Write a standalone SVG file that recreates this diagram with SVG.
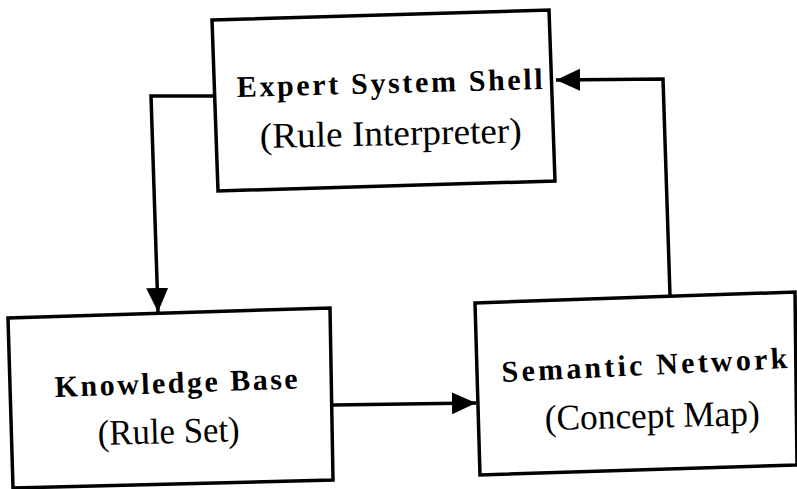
<svg xmlns="http://www.w3.org/2000/svg" width="797" height="489" viewBox="0 0 797 489">
<style>
.box{fill:#fff;stroke:#000;stroke-width:3.5;stroke-linejoin:miter}
.t1{font-family:"Liberation Serif","DejaVu Serif",serif;font-weight:bold;font-size:30px;fill:#000}
.t2{font-family:"Liberation Serif","DejaVu Serif",serif;font-size:36px;fill:#000}
.edge{fill:none;stroke:#000;stroke-width:3.5}
</style>
<defs>
<marker id="arr" markerUnits="userSpaceOnUse" markerWidth="26" markerHeight="24" refX="24" refY="11" orient="auto">
<path d="M0,0 L24,11 L0,22 Z" fill="#000"/>
</marker>
</defs>
<rect width="797" height="489" fill="#fff"/>
<g id="connectors">
<path class="edge" d="M213,96 L151,96 L158,312" marker-end="url(#arr)"/>
<path class="edge" d="M333,405 L476,403" marker-end="url(#arr)"/>
<path class="edge" d="M670,295 L663,79 L556,80" marker-end="url(#arr)"/>
</g>
<g id="expert-system-shell">
<polygon class="box" points="212,20 549,10 555,181 218,191"/>
<text class="t1" x="237" y="97" textLength="306" lengthAdjust="spacing" transform="rotate(-1.5 237 97)">Expert System Shell</text>
<text class="t2" x="260" y="148" textLength="262" lengthAdjust="spacingAndGlyphs" transform="rotate(-1.2 260 148)">(Rule  Interpreter)</text>
</g>
<g id="knowledge-base">
<polygon class="box" points="8,318 330,308 333,480 13,488"/>
<text class="t1" x="55" y="397" textLength="243" lengthAdjust="spacing" transform="rotate(-2 55 397)">Knowledge  Base</text>
<text class="t2" x="98" y="445" textLength="142" lengthAdjust="spacingAndGlyphs" transform="rotate(-1.5 98 445)">(Rule Set)</text>
</g>
<g id="semantic-network">
<polygon class="box" points="475,303 795,292 797,465 480,475"/>
<text class="t1" x="502" y="382" textLength="286" lengthAdjust="spacing" transform="rotate(-2.8 502 382)">Semantic  Network</text>
<text class="t2" x="545" y="430" textLength="215" lengthAdjust="spacingAndGlyphs" transform="rotate(-1.3 545 430)">(Concept  Map)</text>
</g>
</svg>
